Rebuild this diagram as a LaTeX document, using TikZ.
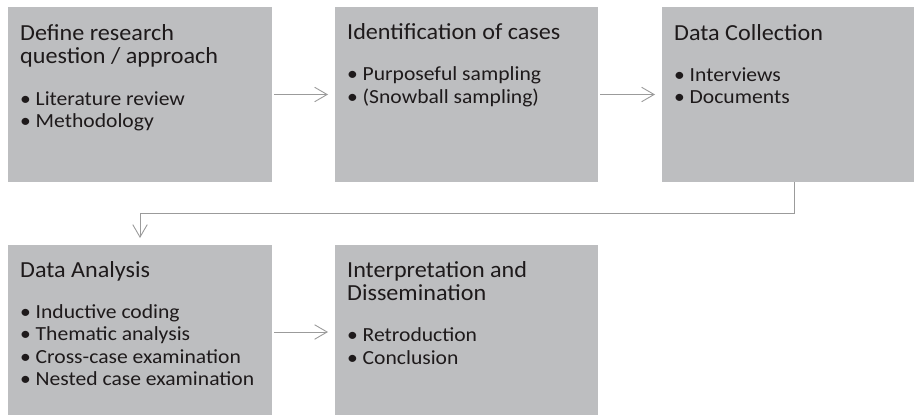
\documentclass[tikz,border=0pt]{standalone}
\usepackage{fontspec}
\setmainfont{Carlito}
\newfontfamily\headface[FakeStretch=1.05]{Carlito}
\newfontfamily\itemface[FakeStretch=1.08]{Carlito}
\usetikzlibrary{arrows.meta,calc}

\definecolor{boxgray}{HTML}{BDBEC0}
\definecolor{linegray}{HTML}{9B9B9B}
\definecolor{inkdark}{HTML}{1E1A1B}

% heading and bullet text settings
\newcommand{\headfont}{\headface\fontsize{23}{23.5}\selectfont}
\newcommand{\itemfont}{\itemface\fontsize{20}{22.6}\selectfont}
\newcommand{\bul}{\leavevmode\hbox to 15.5pt{\textbullet\hss}}
% \stepcontent{heading lines}{bullet lines}
\newcommand{\stepcontent}[2]{%
  \begin{minipage}[t]{250pt}\raggedright\parindent=0pt\parskip=0pt
    {\headfont #1\par}\vspace{18.5pt}%
    {\itemfont #2\par}%
  \end{minipage}}

\begin{document}
\begin{tikzpicture}[x=1pt,y=-1pt,
  stepbox/.style={fill=boxgray,draw=none,inner sep=0pt},
  steptext/.style={anchor=base west,inner sep=0pt,text=inkdark},
  flow/.style={draw=linegray,line width=0.9pt,
    -{Straight Barb[length=12.5pt,width=14.5pt,line width=0.9pt]},
    shorten <=2pt,shorten >=7pt}]
  \useasboundingbox (0,0) rectangle (914,415);

  % process boxes
  \path[stepbox] (8,7) rectangle (272,182) node[pos=0.5] (b1) {};
  \path[stepbox] (335,7) rectangle (598,182) node[pos=0.5] (b2) {};
  \path[stepbox] (662,7) rectangle (926,182) node[pos=0.5] (b3) {};
  \path[stepbox] (8,245) rectangle (272,415) node[pos=0.5] (b4) {};
  \path[stepbox] (335,245) rectangle (598,415) node[pos=0.5] (b5) {};

  % anchor points on the box edges
  \coordinate (b1e) at (272,94.5);
  \coordinate (b2w) at (335,94.5);
  \coordinate (b2e) at (598,94.5);
  \coordinate (b3w) at (662,94.5);
  \coordinate (b3s) at (794,182);
  \coordinate (b4n) at (140,245);
  \coordinate (b4e) at (272,332);
  \coordinate (b5w) at (335,332);

  % box texts
  \node[steptext] (t1) at (20,40.5) {\stepcontent
    {Define research\par question / approach}
    {\bul Literature review\par\bul Methodology}};
  \node[steptext] (t2) at (347,39.5) {\stepcontent
    {Identification of cases}
    {\bul Purposeful sampling\par\bul (Snowball sampling)}};
  \node[steptext] (t3) at (674,40) {\stepcontent
    {Data Collection}
    {\bul Interviews\par\bul Documents}};
  \node[steptext] (t4) at (20,277) {\stepcontent
    {Data Analysis}
    {\bul Inductive coding\par\bul Thematic analysis\par
     \bul Cross-case examination\par\bul Nested case examination}};
  \node[steptext] (t5) at (347,277) {\stepcontent
    {Interpretation and\par Dissemination}
    {\bul Retroduction\par\bul Conclusion}};

  % connectors
  \draw[flow] (b1e) -- (b2w);
  \draw[flow] (b2e) -- (b3w);
  \draw[flow,shorten <=0pt] (b3s) -- ++(0,31) -| (b4n);
  \draw[flow] (b4e) -- (b5w);
\end{tikzpicture}
\end{document}
